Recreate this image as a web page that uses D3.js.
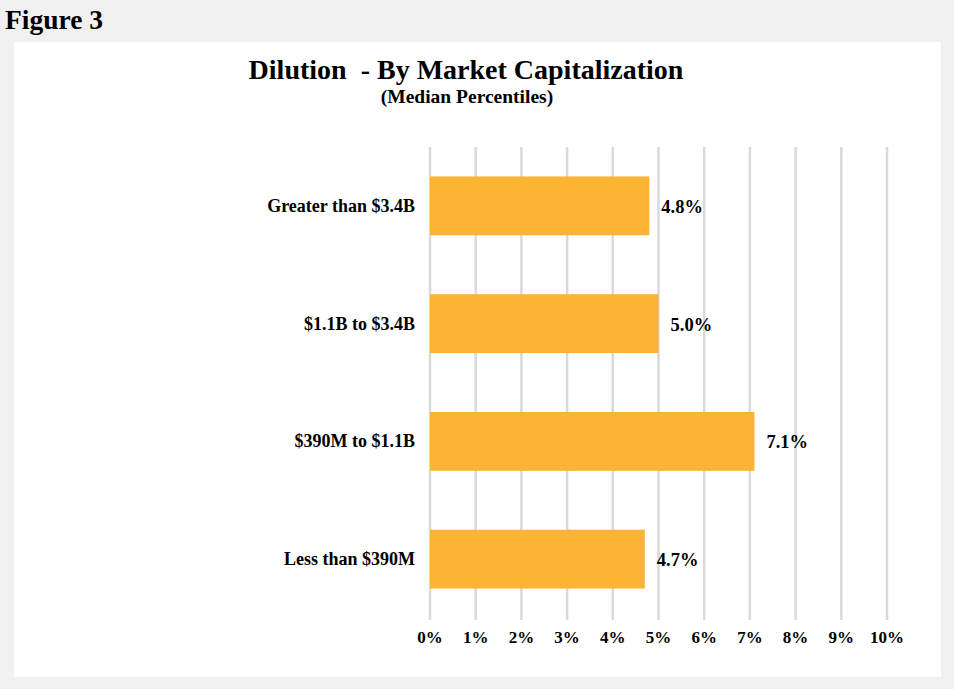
<!DOCTYPE html>
<html>
<head>
<meta charset="utf-8">
<script src="https://cdn.jsdelivr.net/npm/d3@7"></script>
<style>
  body { margin: 0; background: #f0f0f0; }
  svg text { font-family: "Liberation Serif", "Times New Roman", serif; font-weight: bold; fill: #000; }
</style>
</head>
<body>
<svg class="chart" width="954" height="689"></svg>
<script>
const categories = ['Greater than $3.4B', '$1.1B to $3.4B', '$390M to $1.1B', 'Less than $390M']
const values = [4.8, 5.0, 7.1, 4.7]
const valueLabels = ['4.8%', '5.0%', '7.1%', '4.7%']
const ticks = [0, 1, 2, 3, 4, 5, 6, 7, 8, 9, 10]

const svg = d3.select('svg.chart')

svg.append('rect')
    .attr('width', 954).attr('height', 689)
    .style('fill', '#f0f0f0')

svg.append('text')
    .attr('x', 5).attr('y', 29)
    .style('font-size', '27.5px')
    .text('Figure 3')

// white panel
svg.append('rect')
    .attr('x', 14).attr('y', 42)
    .attr('width', 927).attr('height', 635)
    .style('fill', '#fff')

svg.append('text')
    .attr('x', 466).attr('y', 79)
    .attr('text-anchor', 'middle')
    .style('font-size', '28px')
    .style('white-space', 'pre')
    .text('Dilution  - By Market Capitalization')

svg.append('text')
    .attr('x', 467).attr('y', 103)
    .attr('text-anchor', 'middle')
    .style('font-size', '19.5px')
    .text('(Median Percentiles)')

const xScale = d3.scaleLinear()
    .domain([0, 10])
    .range([430, 887])

const yScale = d3.scaleBand()
    .domain(categories)
    .range([147, 618])
    .paddingInner(0.5)
    .paddingOuter(0.25)

// gridlines
svg.append('g')
    .selectAll('line')
    .data(ticks)
    .enter()
    .append('line')
    .attr('x1', d => xScale(d)).attr('x2', d => xScale(d))
    .attr('y1', 147).attr('y2', 620)
    .style('stroke', '#d9d9d9')
    .style('stroke-width', 2.5)

// x tick labels
svg.append('g')
    .selectAll('text')
    .data(ticks)
    .enter()
    .append('text')
    .attr('x', d => xScale(d))
    .attr('y', 643)
    .attr('text-anchor', 'middle')
    .style('font-size', '17px')
    .text(d => d + '%')

// bars
svg.append('g')
    .selectAll('rect')
    .data(values)
    .enter()
    .append('rect')
    .attr('x', xScale(0))
    .attr('y', (d, i) => yScale(categories[i]))
    .attr('width', d => xScale(d) - xScale(0))
    .attr('height', yScale.bandwidth())
    .style('fill', '#fdb436')

// category labels
svg.append('g')
    .selectAll('text')
    .data(categories)
    .enter()
    .append('text')
    .attr('x', 415)
    .attr('y', d => yScale(d) + yScale.bandwidth() / 2 + 6)
    .attr('text-anchor', 'end')
    .style('font-size', '18px')
    .text(d => d)

// value labels
svg.append('g')
    .selectAll('text')
    .data(values)
    .enter()
    .append('text')
    .attr('x', d => xScale(d) + 12)
    .attr('y', (d, i) => yScale(categories[i]) + yScale.bandwidth() / 2 + 7)
    .style('font-size', '18.5px')
    .text((d, i) => valueLabels[i])
</script>
</body>
</html>
